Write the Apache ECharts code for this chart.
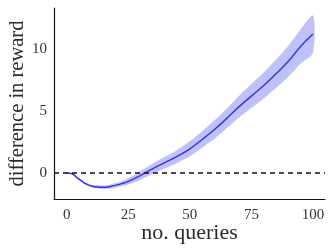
<!DOCTYPE html>
<html>
<head>
<meta charset="utf-8">
<script src="https://cdn.jsdelivr.net/npm/echarts@6/dist/echarts.min.js"></script>
<style>
  html, body { margin: 0; padding: 0; background: #fff; }
  #chart { width: 333px; height: 252px; }
</style>
</head>
<body>
<div id="chart"></div>
<script>
// no. queries
var queries = [0, 2, 4, 6, 8, 10, 12, 14, 16, 18, 20, 22, 25, 30, 35, 40, 45, 50, 55, 60, 65, 70, 75, 80, 85, 90, 95, 100];
// mean difference in reward
var meanDiff = [0, -0.05, -0.35, -0.65, -0.9, -1.05, -1.12, -1.15, -1.15, -1.08, -0.98, -0.88, -0.68, -0.2, 0.35, 0.85, 1.35, 1.95, 2.7, 3.5, 4.4, 5.35, 6.2, 7.05, 8.0, 9.0, 10.2, 11.2];
// shaded band edges
var bandLow = [-0.02, -0.08, -0.40, -0.72, -0.99, -1.15, -1.24, -1.29, -1.30, -1.25, -1.17, -1.08, -0.93, -0.55, -0.07, 0.38, 0.83, 1.35, 2.04, 2.76, 3.60, 4.47, 5.23, 6.00, 6.85, 7.75, 8.82, 9.70];
var bandHigh = [0.02, -0.02, -0.30, -0.58, -0.81, -0.95, -1.00, -1.01, -1.00, -0.91, -0.79, -0.68, -0.43, 0.15, 0.77, 1.32, 1.87, 2.55, 3.36, 4.24, 5.20, 6.23, 7.17, 8.10, 9.15, 10.25, 11.58, 12.70];

var xTicks = [0, 25, 50, 75, 100];
var yTicks = [0, 5, 10];

var font = 'Liberation Serif, DejaVu Serif, serif';

var bandPts = queries.map(function (q, i) { return [q, bandLow[i], bandHigh[i]]; });
var meanPts = queries.map(function (q, i) { return [q, meanDiff[i]]; });

// draw whole band as one polygon (only on first item)
function renderBand(params, api) {
  if (params.dataIndex !== 0) return null;
  var top = [], bottom = [];
  for (var i = 0; i < bandPts.length; i++) {
    top.push(api.coord([bandPts[i][0], bandPts[i][2]]));
    bottom.push(api.coord([bandPts[i][0], bandPts[i][1]]));
  }
  return {
    type: 'polygon',
    shape: { points: top.concat(bottom.reverse()), smooth: 0.3 },
    style: { fill: 'rgba(80,80,240,0.36)' },
    silent: true
  };
}

var chart = echarts.init(document.getElementById('chart'));
chart.setOption({
  animation: false,
  grid: { left: 54, right: 8, top: 8, bottom: 53, containLabel: false, outerBoundsMode: 'none' },
  xAxis: {
    type: 'value',
    min: -5.2,
    max: 104.9,
    name: 'no. queries',
    nameLocation: 'middle',
    nameGap: 23,
    nameMoveOverlap: false,
    nameTextStyle: { fontFamily: font, fontSize: 22, color: '#2a2a2a' },
    axisLine: { show: true, onZero: false, lineStyle: { color: '#111', width: 1.2 } },
    axisTick: { show: false },
    splitLine: { show: false },
    axisLabel: { customValues: xTicks, fontFamily: font, fontSize: 15, color: '#333', margin: 9 }
  },
  yAxis: {
    type: 'value',
    min: -2.1,
    max: 13.3,
    name: 'difference in reward',
    nameLocation: 'middle',
    nameGap: 26,
    nameMoveOverlap: false,
    nameTextStyle: { fontFamily: font, fontSize: 20.5, color: '#2a2a2a' },
    axisLine: { show: true, onZero: false, lineStyle: { color: '#111', width: 1.2 } },
    axisTick: { show: false },
    splitLine: { show: false },
    axisLabel: { customValues: yTicks, fontFamily: font, fontSize: 15, color: '#333', margin: 7 }
  },
  series: [
    {
      type: 'custom',
      data: bandPts,
      encode: { x: 0, y: [1, 2] },
      renderItem: renderBand,
      clip: true,
      silent: true
    },
    {
      type: 'line',
      data: meanPts,
      symbol: 'none',
      smooth: true,
      lineStyle: { color: '#3535e8', width: 1.5 },
      markLine: {
        silent: true,
        symbol: 'none',
        label: { show: false },
        lineStyle: { color: '#111', type: [5, 4], width: 1.5 },
        data: [{ yAxis: 0 }]
      }
    }
  ]
});
</script>
</body>
</html>
